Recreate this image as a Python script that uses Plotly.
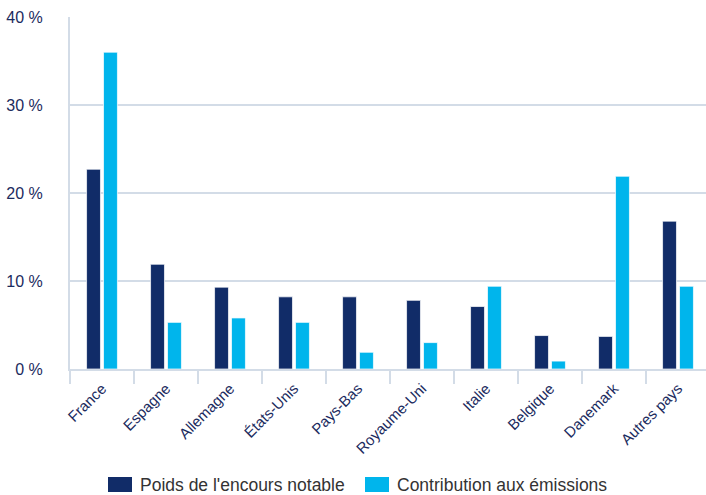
import plotly.graph_objects as go

categories = ["France", "Espagne", "Allemagne", "États-Unis", "Pays-Bas",
              "Royaume-Uni", "Italie", "Belgique", "Danemark", "Autres pays"]
poids_encours = [22.7, 11.9, 9.3, 8.2, 8.2, 7.8, 7.1, 3.8, 3.7, 16.8]
contribution_emissions = [36.0, 5.3, 5.8, 5.3, 1.9, 3.0, 9.4, 0.9, 21.9, 9.4]
series_names = ["Poids de l'encours notable", "Contribution aux émissions"]
y_ticks = [0, 10, 20, 30, 40]

navy = "#112C68"
cyan = "#00B5EC"
grid = "#D3DCE7"
font_fam = "Liberation Sans, Arial, Helvetica, sans-serif"

fig = go.Figure()
fig.add_trace(go.Bar(x=categories, y=poids_encours, name=series_names[0],
                     marker=dict(color=navy, line=dict(color="rgba(255,255,255,0.7)", width=1))))
fig.add_trace(go.Bar(x=categories, y=contribution_emissions, name=series_names[1],
                     marker=dict(color=cyan, line=dict(color="rgba(255,255,255,0.7)", width=1))))

fig.update_layout(
    width=706, height=495,
    margin=dict(l=70, r=0, t=17, b=126),
    paper_bgcolor="white", plot_bgcolor="white",
    barmode="group", bargap=0.47, bargroupgap=0.18,
    font=dict(family=font_fam, color="#1B2B5E"),
    showlegend=False,
)
fig.update_xaxes(
    type="category", range=[-0.5, 9.4375], automargin=False,
    tickangle=-45, tickfont=dict(size=15, color="#1B2B5E"),
    tickson="boundaries", ticks="outside", ticklen=13, tickwidth=2, tickcolor=grid,
    ticklabelstandoff=3,
    showline=True, linecolor=grid, linewidth=2, showgrid=False,
)
fig.update_yaxes(
    range=[0, 40], tickvals=y_ticks, ticktext=[f"{v} %" for v in y_ticks],
    tickfont=dict(size=16, color="#1B2B5E"), automargin=False,
    showgrid=True, gridcolor=grid, gridwidth=2,
    showline=True, linecolor=grid, linewidth=2,
    zeroline=False, ticks="", ticklabelstandoff=22,
)

# custom legend (large rectangular swatches like the reference)
legend_items = [(series_names[0], navy, 0.0597, 0.0975, 0.1077),
                (series_names[1], cyan, 0.4638, 0.5016, 0.5110)]
for name, col, x0, x1, xt in legend_items:
    fig.add_shape(type="rect", xref="paper", yref="paper", x0=x0, x1=x1,
                  y0=-0.3494, y1=-0.3068, fillcolor=col, line=dict(width=0))
    fig.add_annotation(text=name, xref="paper", yref="paper", x=xt, y=-0.3295,
                       xanchor="left", yanchor="middle", showarrow=False,
                       font=dict(size=17.5, color="#333333", family=font_fam))

fig.write_html("out.html")
